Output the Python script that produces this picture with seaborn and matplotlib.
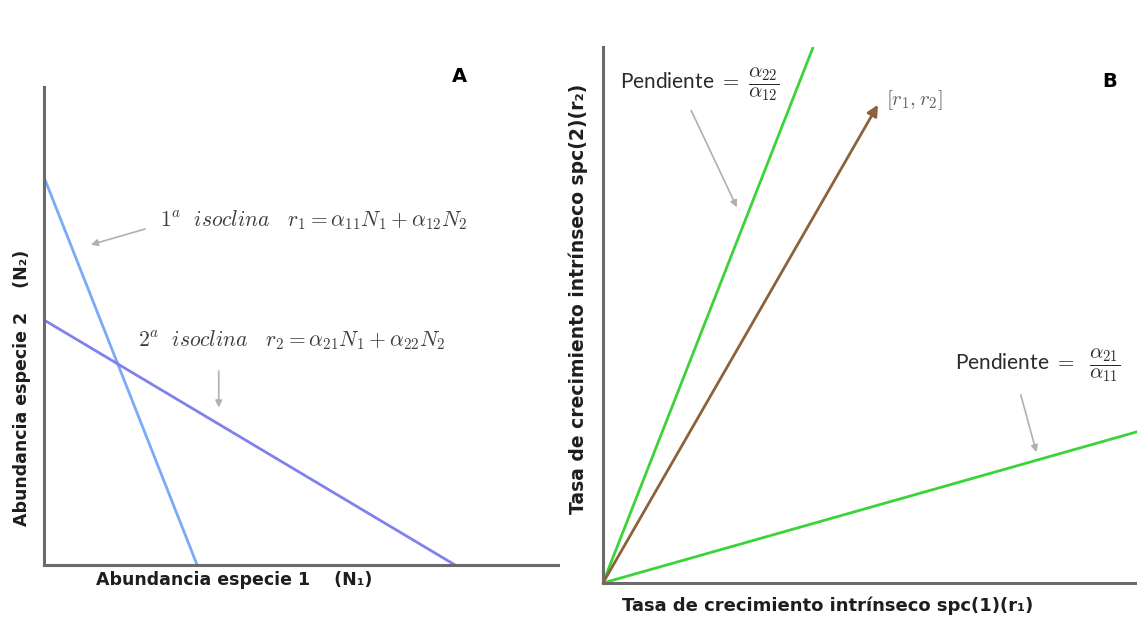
import matplotlib
matplotlib.use("Agg")
import matplotlib.pyplot as plt
import seaborn as sns

# -----------------------------
# DATA (axis units 0-100)
# -----------------------------
# Panel A: isoclines (N1, N2)
iso1_n1 = [0, 29.8]
iso1_n2 = [81.2, 0]
iso2_n1 = [0, 80.0]
iso2_n2 = [51.3, 0]

# Panel B: growth-rate space (r1, r2)
steep_r1 = [0, 39.3]
steep_r2 = [0, 99.8]
shallow_r1 = [0, 100]
shallow_r2 = [0, 28.2]
vec_r1 = [0, 51.5]
vec_r2 = [0, 89.2]

# labels
xlabel_a = "Abundancia especie 1    (N\u2081)"
ylabel_a = "Abundancia especie 2    (N\u2082)"
xlabel_b = "Tasa de crecimiento intr\u00ednseco spc(1)(r\u2081)"
ylabel_b = "Tasa de crecimiento intr\u00ednseco spc(2)(r\u2082)"
iso1_txt = r"$1^a\ \ isoclina\ \ \ r_1 = \alpha_{11}N_1 + \alpha_{12}N_2$"
iso2_txt = r"$2^a\ \ isoclina\ \ \ r_2 = \alpha_{21}N_1 + \alpha_{22}N_2$"
slope1_txt = r"Pendiente $=\ \dfrac{\alpha_{22}}{\alpha_{12}}$"
slope2_txt = r"Pendiente $=\ \ \dfrac{\alpha_{21}}{\alpha_{11}}$"
vec_txt = r"$[r_1, r_2]$"

# -----------------------------
# STYLE
# -----------------------------
sns.set_theme(style="white")
plt.rcParams['font.family'] = ['Lato', 'DejaVu Sans']
plt.rcParams['mathtext.fontset'] = 'cm'

AXIS_C = "#6b6b6b"
TXT_C = "#3c3c3c"
ARR_C = "#b0b0b0"
LAB_C = "#1e1e1e"
LAB_FONT = ['DejaVu Sans']

fig = plt.figure(figsize=(11.37, 6.22), dpi=100)
ax_a = fig.add_axes([0.0387, 0.0916, 0.452, 0.768])
ax_b = fig.add_axes([0.5303, 0.0627, 0.4697, 0.862])

for ax in (ax_a, ax_b):
    ax.set_xlim(0, 100)
    ax.set_ylim(0, 100)
    ax.set_xticks([])
    ax.set_yticks([])
    sns.despine(ax=ax)
    for side in ("left", "bottom"):
        ax.spines[side].set_color(AXIS_C)
        ax.spines[side].set_linewidth(2.2)

# -----------------------------
# PANEL A
# -----------------------------
sns.lineplot(x=iso1_n1, y=iso1_n2, ax=ax_a, color="#7aaaf8", lw=2)
sns.lineplot(x=iso2_n1, y=iso2_n2, ax=ax_a, color="#8080f0", lw=2)

ax_a.text(22.6, 72.2, iso1_txt, fontsize=15.5, color=TXT_C, va="center", ha="left")
ax_a.text(18.3, 47.1, iso2_txt, fontsize=15.5, color=TXT_C, va="center", ha="left")
ax_a.annotate("", xy=(8.6, 66.9), xytext=(20.2, 70.5),
              arrowprops=dict(arrowstyle="-|>", color=ARR_C, lw=1.2, mutation_scale=10))
ax_a.annotate("", xy=(34.0, 32.4), xytext=(34.0, 41.2),
              arrowprops=dict(arrowstyle="-|>", color=ARR_C, lw=1.2, mutation_scale=10))
ax_a.text(80.9, 102.3, "A", fontsize=14, fontweight="bold", family=LAB_FONT, color="black",
          ha="center", va="center", clip_on=False)

ax_a.text(0.37, -0.031, xlabel_a, transform=ax_a.transAxes, fontsize=12.5, family=LAB_FONT,
          fontweight="bold", color=LAB_C, ha="center", va="center", clip_on=False)
ax_a.text(-0.043, 0.37, ylabel_a, transform=ax_a.transAxes, fontsize=12.5, rotation=90,
          family=LAB_FONT, fontweight="bold", color=LAB_C, ha="center", va="center",
          clip_on=False)

# -----------------------------
# PANEL B
# -----------------------------
sns.lineplot(x=steep_r1, y=steep_r2, ax=ax_b, color="#3ad43a", lw=2)
sns.lineplot(x=shallow_r1, y=shallow_r2, ax=ax_b, color="#3ad43a", lw=2)
ax_b.annotate("", xy=(vec_r1[1], vec_r2[1]), xytext=(vec_r1[0], vec_r2[0]),
              arrowprops=dict(arrowstyle="-|>", color="#8b6239", lw=2, mutation_scale=16,
                              shrinkA=0, shrinkB=0))

ax_b.text(3.2, 93.0, slope1_txt, fontsize=15, color="#2a2a2a", va="center", ha="left")
ax_b.annotate("", xy=(25.3, 69.6), xytext=(16.3, 88.6),
              arrowprops=dict(arrowstyle="-|>", color=ARR_C, lw=1.2, mutation_scale=10))
ax_b.text(53.0, 90.1, vec_txt, fontsize=15, color="#606060", va="center", ha="left")
ax_b.text(94.9, 93.5, "B", fontsize=14, fontweight="bold", family=LAB_FONT, color="black",
          ha="center", va="center")
ax_b.text(65.9, 40.7, slope2_txt, fontsize=15, color="#2a2a2a", va="center", ha="left")
ax_b.annotate("", xy=(81.3, 23.9), xytext=(78.1, 35.6),
              arrowprops=dict(arrowstyle="-|>", color=ARR_C, lw=1.2, mutation_scale=10))

ax_b.text(0.42, -0.042, xlabel_b, transform=ax_b.transAxes, fontsize=13, family=LAB_FONT,
          fontweight="bold", color=LAB_C, ha="center", va="center", clip_on=False)
ax_b.text(-0.047, 0.53, ylabel_b, transform=ax_b.transAxes, fontsize=13.5, rotation=90,
          family=LAB_FONT, fontweight="bold", color=LAB_C, ha="center", va="center",
          clip_on=False)

fig.savefig("out.png", dpi=100)
